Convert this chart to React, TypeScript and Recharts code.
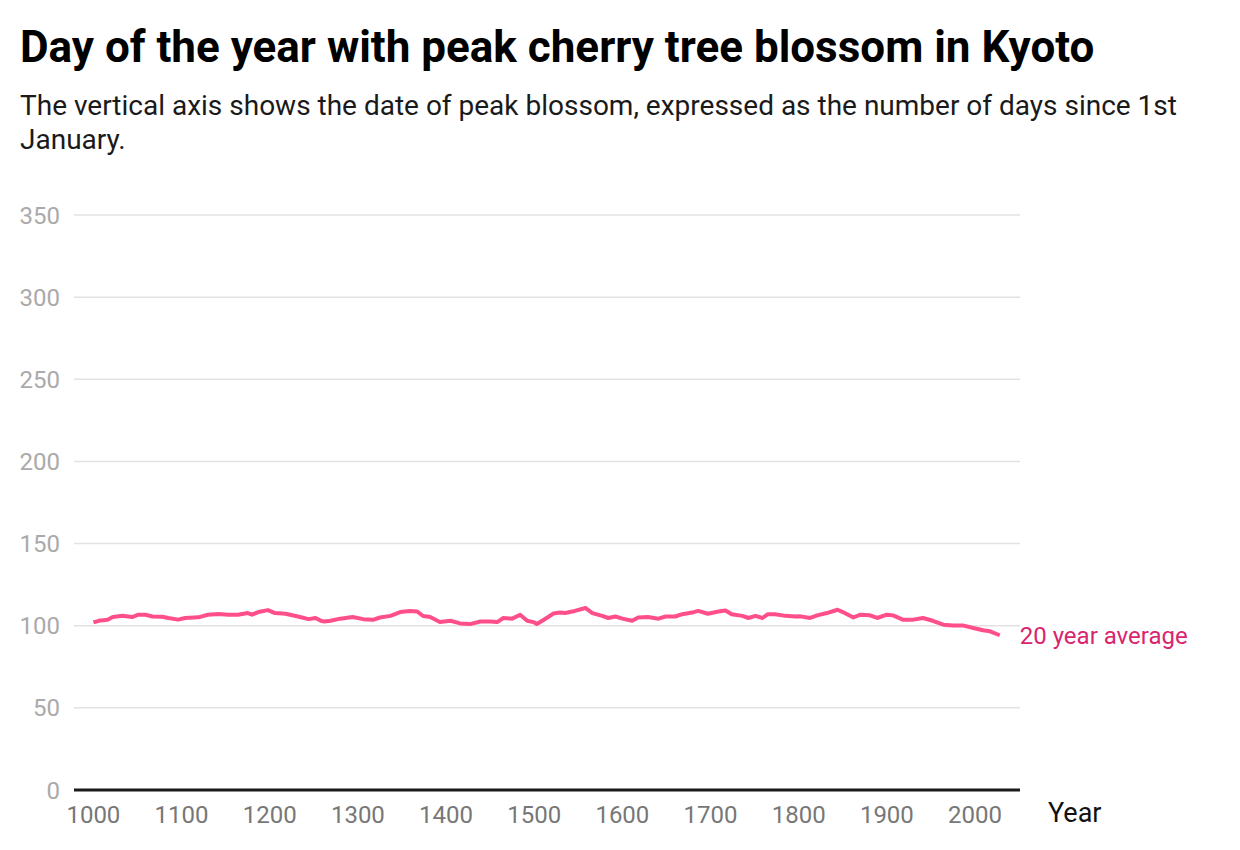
import React from "react";
import { LineChart, Line, XAxis, YAxis, CartesianGrid } from "recharts";

const years = [
  1000, 1006, 1016, 1022, 1033, 1044, 1051, 1059, 1067, 1078, 1085, 1096, 1104, 1119, 1130, 1142,
  1153, 1164, 1175, 1180, 1187, 1198, 1206, 1218, 1232, 1244, 1252, 1258, 1262, 1269, 1280, 1294,
  1306, 1317, 1325, 1337, 1348, 1359, 1367, 1374, 1382, 1393, 1405, 1416, 1427, 1439, 1450, 1458,
  1465, 1475, 1484, 1492, 1499, 1503, 1515, 1522, 1529, 1535, 1546, 1558, 1566, 1577, 1584, 1592,
  1600, 1611, 1618, 1629, 1641, 1649, 1660, 1668, 1679, 1686, 1697, 1709, 1717, 1724, 1736, 1743,
  1751, 1759, 1765, 1773, 1785, 1796, 1802, 1813, 1821, 1832, 1844, 1850, 1862, 1870, 1881, 1889,
  1900, 1907, 1918, 1930, 1941, 1952, 1964, 1975, 1986, 1998, 2009, 2017, 2028,
];

const avgDay = [
  102, 103, 103.6, 105.3, 106, 105.3, 106.7, 106.7, 105.6, 105.5, 104.7, 103.7, 104.7, 105.1, 106.7, 107.1,
  106.7, 106.7, 107.7, 106.7, 108.3, 109.5, 107.7, 107.3, 105.6, 104, 104.7, 103, 102.5, 103, 104.3, 105.3,
  104, 103.6, 105, 106, 108.3, 109, 108.7, 105.9, 105.3, 102.2, 103, 101.4, 101, 102.6, 102.6, 102.2,
  104.7, 104.3, 106.7, 103, 102.2, 101, 105, 107.5, 108, 107.7, 109, 110.8, 107.7, 106, 104.7, 105.6,
  104.3, 103, 105, 105.3, 104.3, 105.6, 105.6, 107, 108, 109, 107.3, 108.7, 109.3, 107, 106, 104.7,
  106, 104.7, 107, 107, 106, 105.6, 105.7, 104.7, 106.3, 107.7, 109.7, 108.3, 105, 106.7, 106.3, 104.7,
  106.7, 106.3, 103.7, 103.7, 104.7, 103, 100.6, 100.2, 100.2, 98.6, 97.2, 96.6, 94.2,
];

const yTicks = [0, 50, 100, 150, 200, 250, 300, 350];
const xTicks = [1000, 1100, 1200, 1300, 1400, 1500, 1600, 1700, 1800, 1900, 2000];

const title = "Day of the year with peak cherry tree blossom in Kyoto";
const subtitle =
  "The vertical axis shows the date of peak blossom, expressed as the number of days since 1st January.";
const seriesLabel = "20 year average";
const xAxisTitle = "Year";

const data = years.map((y, i) => ({ year: y, value: avgDay[i] }));

const FONT = "Roboto, 'Noto Sans', sans-serif";

const EndLabel = (props: any) => {
  const { x, y, index } = props;
  if (index !== data.length - 1) return null;
  return (
    <text x={x + 20} y={y + 9} fill="#d9246f" fontSize={24} fontFamily={FONT}>
      {seriesLabel}
    </text>
  );
};

export default function App() {
  return (
    <div
      style={{
        position: "absolute",
        left: 0,
        top: 0,
        width: 1240,
        height: 850,
        background: "#fff",
        fontFamily: FONT,
      }}
    >
      <div
        style={{
          position: "absolute",
          left: 20,
          top: 21,
          fontSize: 44,
          fontWeight: 700,
          color: "#000",
          lineHeight: "52px",
          whiteSpace: "nowrap",
        }}
      >
        {title}
      </div>
      <div
        style={{
          position: "absolute",
          left: 20,
          top: 89,
          width: 1185,
          fontSize: 28,
          color: "#1a1a1a",
          lineHeight: "34px",
        }}
      >
        {subtitle}
      </div>
      <div style={{ position: "absolute", left: 0, top: 0 }}>
        <LineChart
          width={1240}
          height={850}
          data={data}
          margin={{ top: 215, right: 220, bottom: 20, left: 14 }}
        >
          <CartesianGrid vertical={false} stroke="#e2e2e2" strokeWidth={1.5} />
          <XAxis
            dataKey="year"
            type="number"
            domain={[978, 2051]}
            ticks={xTicks}
            allowDataOverflow
            tickLine={false}
            tickSize={0}
            tickMargin={16}
            height={40}
            axisLine={{ stroke: "#1a1a1a", strokeWidth: 3 }}
            tick={{ fill: "#777", fontSize: 24, fontFamily: FONT }}
          />
          <YAxis
            type="number"
            domain={[0, 350]}
            ticks={yTicks}
            width={60}
            tickLine={false}
            tickSize={0}
            tickMargin={14}
            axisLine={false}
            tick={{ fill: "#aaa", fontSize: 24, fontFamily: FONT }}
          />
          <Line
            type="linear"
            dataKey="value"
            stroke="#ff4f8b"
            strokeWidth={4}
            strokeLinejoin="round"
            dot={false}
            isAnimationActive={false}
            label={<EndLabel />}
          />
        </LineChart>
      </div>
      <div
        style={{
          position: "absolute",
          left: 1048,
          top: 800,
          fontSize: 27,
          lineHeight: "27px",
          color: "#111",
        }}
      >
        {xAxisTitle}
      </div>
    </div>
  );
}
